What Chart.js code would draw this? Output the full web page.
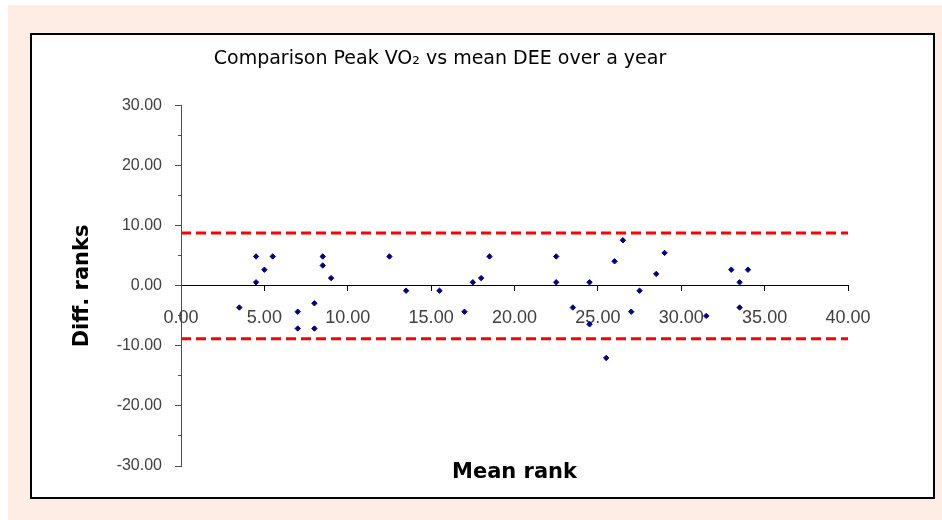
<!DOCTYPE html>
<html>
<head>
<meta charset="utf-8">
<script src="https://cdn.jsdelivr.net/npm/chart.js@4.4.1/dist/chart.umd.min.js"></script>
<style>
  html, body { margin: 0; padding: 0; background: #fff; }
  #page { position: absolute; left: 8px; top: 5px; width: 934px; height: 515px; background: #fdede4; }
  #box { position: absolute; left: 30px; top: 33px; width: 905px; height: 466px; box-sizing: border-box; border: 2px solid #000; background: #fff; }
  #chart { position: absolute; left: 0; top: 0; }
</style>
</head>
<body>
<div id="page"></div>
<div id="box"></div>
<canvas id="chart" width="942" height="520"></canvas>
<script>
// mean rank (x) and difference of ranks (y)
const meanRank = [3.5, 4.5, 4.5, 5.0, 5.5, 7.0, 7.0, 8.0, 8.0, 8.5, 8.5, 9.0,
  12.5, 13.5, 15.5, 17.0, 17.5, 18.0, 18.5, 22.5, 22.5, 23.5, 24.5, 24.5,
  25.5, 26.0, 26.5, 27.0, 27.5, 28.5, 29.0, 31.5, 33.0, 33.5, 33.5, 34.0];
const diffRank = [-3.6, 4.9, 0.6, 2.7, 4.9, -4.3, -7.1, -2.9, -7.1, 4.9, 3.4, 1.3,
  4.9, -0.8, -0.8, -4.3, 0.6, 1.3, 4.9, 4.9, 0.6, -3.6, 0.6, -6.4,
  -12.0, 4.1, 7.6, -4.3, -0.8, 2.0, 5.5, -5.0, 2.7, 0.6, -3.6, 2.7];

// limits of agreement (red dashed lines)
const limits = [8.8, -8.8];

const xTickValues = [0, 5, 10, 15, 20, 25, 30, 35, 40];
const yTickValues = [-30, -20, -10, 0, 10, 20, 30];
const yMinorTicks = [-25, -15, -5, 5, 15, 25];

const xMin = xTickValues[0], xMax = xTickValues[xTickValues.length - 1];
const yMin = yTickValues[0], yMax = yTickValues[yTickValues.length - 1];

const points = meanRank.map((x, i) => ({ x: x, y: diffRank[i] }));

const limitSets = limits.map(v => ({
  label: "limit " + v,
  data: [{ x: xMin, y: v }, { x: xMax, y: v }],
  showLine: true,
  borderColor: "#ff0000",
  borderWidth: 3,
  borderDash: [10, 5],
  pointRadius: 0,
}));

const ctx = document.getElementById("chart").getContext("2d");

new Chart(ctx, {
  type: "scatter",
  data: {
    datasets: [
      {
        label: "Diff. ranks",
        data: points,
        pointStyle: "rectRot",
        pointRadius: 2.7,
        backgroundColor: "#000080",
        borderColor: "#000080",
        borderWidth: 1,
      },
      ...limitSets,
    ],
  },
  options: {
    responsive: false,
    animation: false,
    devicePixelRatio: 1,
    layout: { padding: { left: 32, top: 0, right: 94, bottom: 54 } },
    plugins: {
      legend: { display: false },
      tooltip: { enabled: false },
      title: {
        display: true,
        text: "Comparison Peak VO\u2082 vs mean DEE over a year",
        color: "#000",
        font: { family: "DejaVu Sans", size: 19, weight: "normal" },
        padding: { top: 48, bottom: 35 },
      },
    },
    scales: {
      x: {
        type: "linear",
        position: { y: 0 },
        min: xMin,
        max: xMax,
        afterBuildTicks: (s) => { s.ticks = xTickValues.map(v => ({ value: v })); },
        ticks: {
          color: "#404040",
          font: { family: "Liberation Sans", size: 18 },
          padding: 16,
          callback: (v) => Number(v).toFixed(2),
        },
        grid: { drawOnChartArea: false, tickLength: 5, tickColor: "#000" },
        border: { color: "#000", width: 1 },
        title: {
          display: true,
          text: "Mean rank",
          color: "#000",
          font: { family: "DejaVu Sans", size: 21, weight: "bold" },
          padding: { top: 115, bottom: 0 },
        },
      },
      y: {
        type: "linear",
        position: "left",
        min: yMin,
        max: yMax,
        afterBuildTicks: (s) => { s.ticks = yTickValues.map(v => ({ value: v })); },
        afterFit: (s) => { s.width = 149; },
        ticks: {
          color: "#404040",
          font: { family: "Liberation Sans", size: 16 },
          padding: 13,
          callback: (v) => Number(v).toFixed(2),
        },
        grid: { drawOnChartArea: false, tickLength: 6, tickColor: "#4d4d4d" },
        border: { color: "#4d4d4d", width: 1 },
        title: {
          display: true,
          text: "Diff. ranks",
          color: "#000",
          font: { family: "DejaVu Sans", size: 21, weight: "bold" },
          padding: { top: 38, bottom: 0 },
        },
      },
      // short minor ticks every 5 units on the y axis
      yMinor: {
        type: "linear",
        axis: "y",
        position: { x: 0 },
        min: yMin,
        max: yMax,
        afterBuildTicks: (s) => { s.ticks = yMinorTicks.map(v => ({ value: v })); },
        ticks: { display: false },
        grid: { drawOnChartArea: false, tickLength: 3, tickColor: "#4d4d4d" },
        border: { display: false },
      },
    },
  },
});
</script>
</body>
</html>
